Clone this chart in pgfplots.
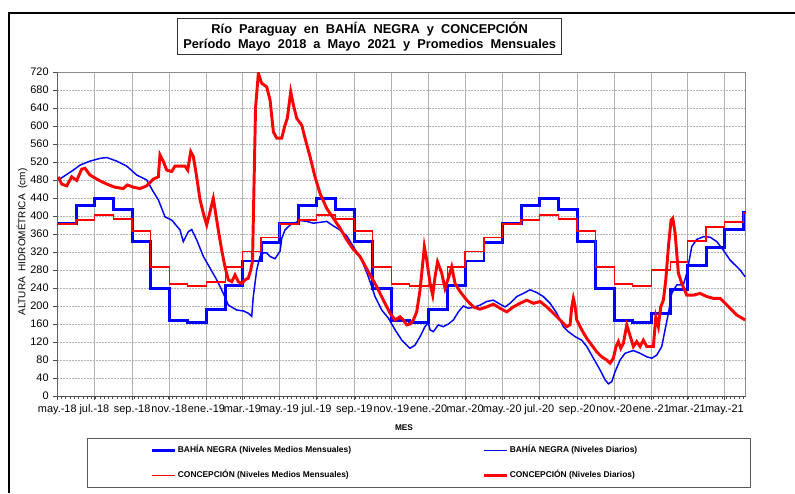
\documentclass[border=0pt]{standalone}
\usepackage{fontspec}
\setmainfont{Liberation Sans}
\newfontfamily\wsfont[WordSpace=2]{Liberation Sans}
\usepackage{pgfplots}
\pgfplotsset{compat=1.18}
\begin{document}
\begin{tikzpicture}
\useasboundingbox (0pt,0pt) rectangle (596.25pt,369.75pt);
\draw[line width=1.5pt] (6.975pt,0pt) -- (6.975pt,359.775pt) -- (596.25pt,359.775pt);
\draw[line width=0.75pt, draw=black!80] (133.275pt,355.5pt) rectangle (421.275pt,328.5pt);
\node[font=\wsfont\bfseries\fontsize{9.6}{11}\selectfont] at (277.275pt,347.6pt) {Río Paraguay en BAHÍA NEGRA y CONCEPCIÓN};
\node[font=\wsfont\bfseries\fontsize{9.6}{11}\selectfont] at (277.275pt,335.6pt) {Período Mayo 2018 a Mayo 2021 y Promedios Mensuales};
\begin{axis}[
  at={(42.975pt,72.75pt)}, anchor=south west, scale only axis,
  width=516.3pt, height=243pt,
  xmin=0, xmax=1131, ymin=0, ymax=720,
  ytick={0,40,...,720},
  xtick={0,61,123,184,245,304,365,426,488,549,610,670,731,792,854,915,976,1035,1096},
  xticklabels={may.-18,jul.-18,sep.-18,nov.-18,ene.-19,mar.-19,may.-19,jul.-19,sep.-19,nov.-19,ene.-20,mar.-20,may.-20,jul.-20,sep.-20,nov.-20,ene.-21,mar.-21,may.-21},
  minor xtick={0,7,...,1131},
  xtick pos=bottom, ytick pos=left,
  tick align=outside,
  major tick length=3pt, minor tick length=2pt,
  every tick/.style={black!70, line width=0.5pt},
  xmajorgrids, ymajorgrids,
  x grid style={gray!60, line width=0.6pt},
  y grid style={gray!60, line width=0.5pt, dash pattern=on 1.5pt off 0.75pt},
  axis line style={gray!90, line width=0.7pt},
  /pgf/number format/assume math mode=true,
  tick label style={font=\fontsize{8.2}{9}\selectfont},
  ylabel={ALTURA HIDROMÉTRICA (cm)},
  ylabel style={at={(axis description cs:-0.0513,0.475)}, anchor=center, font=\wsfont\fontsize{7.5}{9}\selectfont},
  xlabel={MES},
  xlabel style={at={(axis description cs:0.5036,-0.0988)}, anchor=center, font=\bfseries\fontsize{6.2}{7}\selectfont},
  legend columns=2,
  legend style={at={(axis description cs:0.0431,-0.1296)}, anchor=north west,
    draw=black!65, line width=0.7pt, inner xsep=48pt, inner ysep=6.1pt, outer sep=0pt,
    font=\bfseries\fontsize{6.3}{7}\selectfont, column sep=0.75pt, row sep=12.25pt,
    nodes={inner sep=0pt, text height=5pt, text depth=1.5pt}},
]
% Bahia Negra - monthly averages
\addplot[const plot, blue, line width=2.2pt,
  legend image code/.code={\draw[blue, line width=2.2pt] (0pt,0pt) -- (17.25pt,0pt);}] coordinates {
(0,384) (31,424) (61,438) (92,415) (123,343) (153,239) (184,167) (214,164)
(245,193) (276,246) (304,300) (335,342) (365,384) (396,424) (426,438) (457,415) (488,343) (518,239) (549,167) (579,164)
(610,193) (641,246) (670,300) (701,342) (731,384) (762,424) (792,438) (823,415) (854,343) (884,239) (915,167) (945,164)
(976,184) (1007,236) (1035,289) (1066,330) (1096,369) (1127,407) (1131,407)};
\addlegendentry{\makebox[228pt][l]{BAHÍA NEGRA (Niveles Medios Mensuales)}}
% Bahia Negra - daily
\addplot[blue, line width=1.1pt,
  legend image code/.code={\draw[blue, line width=1.1pt] (0pt,0pt) -- (17.25pt,0pt);}] coordinates {
(1.6,480) (26.3,502) (37.3,513) (53.7,522) (70.1,528) (81.2,530) (97.6,522) (114,511) (130.5,491) (146.9,480)
(157.7,454) (166,436) (177,398) (188,391) (201.6,369) (207,343) (215.2,365) (220.8,370) (229,347) (240,310)
(251,284) (262,258) (272.8,228) (281,202) (294.8,191) (305.6,189) (313.8,184) (319.4,177) (322,221) (327.6,280)
(333,310) (338.5,318) (344,318) (349.5,310) (357.7,305) (366,322) (368.7,350) (374.1,369) (382.4,380) (398.8,390)
(409.8,388) (420.6,384) (431.7,386) (442.6,388) (453.5,378) (464.5,369) (475.5,356) (486.4,332) (500.2,302) (511,265)
(522,221) (533,191) (544,173) (555,147) (566,124) (579.5,106) (587.7,113) (596,132) (604,154) (609.6,163)
(612.4,147) (617.8,143) (626,158) (634.2,154) (642.5,160) (650.7,169) (659,187) (667,200) (675.3,195) (683.5,197)
(694.5,202) (705.5,210) (716.4,213) (727.4,204) (735.6,198) (743.8,206) (754.8,221) (765.7,228) (776.7,236) (787.7,230)
(798.5,221) (809.6,206) (820.6,184) (831.4,154) (839.6,143) (850.6,132) (861.6,124) (869.9,110) (880.7,84) (891.7,58)
(900,36) (905.4,27) (911,32) (916.4,54) (924.6,80) (932.8,95) (946.4,101) (957.4,95) (968.5,87) (976.7,84)
(984.9,91) (993.1,110) (998.5,147) (1004,184) (1009.5,228) (1017.8,247) (1028.6,247) (1034.2,273) (1042.4,332) (1050.6,348)
(1061.5,354) (1072.5,353) (1083.5,343) (1094.3,324) (1105.3,302) (1121.8,280) (1130,265)};
\addlegendentry{\makebox[132.75pt][l]{BAHÍA NEGRA (Niveles Diarios)}}
% Concepcion - monthly averages
\addplot[const plot, red, line width=1.1pt,
  legend image code/.code={\draw[red, line width=1.1pt] (0pt,0pt) -- (17.25pt,0pt);}] coordinates {
(0,382) (31,391) (61,402) (92,393) (123,367) (153,287) (184,249) (214,244)
(245,253) (276,287) (304,321) (335,352) (365,382) (396,391) (426,402) (457,393) (488,367) (518,287) (549,249) (579,244)
(610,248) (641,287) (670,321) (701,352) (731,382) (762,391) (792,402) (823,393) (854,367) (884,287) (915,249) (945,244)
(976,280) (1007,298) (1035,344) (1066,376) (1096,387) (1127,407) (1131,407)};
\addlegendentry{\makebox[228pt][l]{CONCEPCIÓN (Niveles Medios Mensuales)}}
% Concepcion - daily
\addplot[red, line width=2.2pt,
  legend image code/.code={\draw[red, line width=2.2pt] (0pt,0pt) -- (17.25pt,0pt);}] coordinates {
(1.6,487) (7.2,471) (15.4,467) (23.7,487) (31.9,479) (40.1,504) (45.5,506) (53.7,491) (67.4,480) (81.2,471)
(94.8,464) (108.4,461) (115,469) (124.9,464) (135.9,461) (146.9,467) (157.7,482) (166,487) (168.7,536) (174.2,521)
(179.8,502) (188,499) (193.4,511) (201.6,511) (209.8,511) (214.3,502) (219.2,543) (223.5,532) (229,487) (234.5,436)
(240,406) (245.5,380) (251,410) (256.3,439) (264.5,369) (270.1,324) (275.5,287) (281,258) (286.6,254) (292,269)
(297.4,254) (303,250) (308.4,258) (313.8,262) (317.8,280) (320.7,300) (325.7,640) (330.3,717) (335.8,695) (344,687)
(349.5,658) (355,587) (360.5,573) (368.7,573) (374.1,602) (377.9,617) (383.5,676) (387.8,647) (393.4,617) (401.6,602)
(407,573) (415.2,532) (423.4,487) (431.7,450) (442.6,417) (453.5,395) (464.5,373) (475.5,347) (486.4,326) (497.4,310)
(511,276) (524.8,243) (535.7,213) (546.7,184) (555,169) (563.1,176) (568.5,169) (574.1,158) (579.5,160) (585,169)
(590.5,187) (596,236) (600.4,295) (603,332) (607,302) (612.4,250) (616.8,224) (620.6,265) (624.7,298) (631.6,273)
(637,239) (642.5,262) (648,287) (653.5,250) (661.7,232) (672.7,213) (683.5,198) (694.5,193) (705.5,198) (716.4,204)
(727.4,195) (738.4,187) (749.3,198) (760.3,206) (771.3,213) (782.2,206) (793.2,210) (804.2,198) (815,184) (826,169)
(837,154) (842.4,158) (845.2,198) (847.8,217) (850.6,200) (853.4,169) (861.6,147) (869.9,128) (878.1,113) (886.3,98)
(894.5,87) (902.7,80) (908.1,73) (913.6,84) (918,110) (921.8,121) (925.7,106) (930,117) (935.6,158) (939.9,139)
(946.4,110) (952,121) (957.4,110) (962.8,124) (968.5,110) (979.3,110) (983.3,176) (987.5,154) (991.4,198) (995.7,213)
(999.7,258) (1004,332) (1008.4,391) (1011.2,395) (1015,362) (1020.4,273) (1026,250) (1034.2,224) (1045,224) (1056,228)
(1067,221) (1078,217) (1089,217) (1094.3,210) (1105.3,195) (1116.3,180) (1130,169)};
\addlegendentry{\makebox[132.75pt][l]{CONCEPCIÓN (Niveles Diarios)}}
\draw[black!70, line width=0.7pt] (rel axis cs:0,1) -- (rel axis cs:0,0) -- (rel axis cs:1,0);
\end{axis}
\end{tikzpicture}
\end{document}
